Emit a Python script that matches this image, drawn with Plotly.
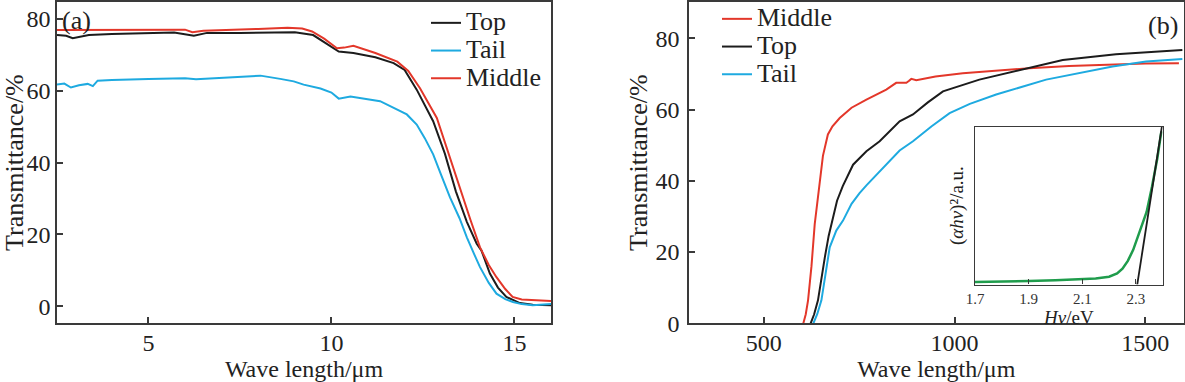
import plotly.graph_objects as go

# ---------------- Panel (a): IR transmittance ----------------
a_top_x = [2.5, 2.75, 2.93, 3.1, 3.37, 4.0, 4.6, 5.7, 6.24, 6.6, 7.5, 8.6, 9.0, 9.5, 10.0, 10.2, 10.6, 11.2, 11.7, 12.0, 12.33, 12.78, 13.1, 13.4, 13.7, 13.97, 14.1, 14.33, 14.55, 14.78, 15.15, 15.5, 16.0]
a_top_y = [75.5, 75.3, 74.6, 74.9, 75.5, 75.8, 76.0, 76.2, 75.3, 76.1, 76.1, 76.2, 76.3, 75.5, 72.3, 70.9, 70.5, 69.3, 67.7, 65.8, 60.3, 51.5, 42.5, 32.0, 23.5, 17.4, 15.5, 9.1, 5.2, 2.6, 0.9, 0.4, 0.3]

a_tail_x = [2.5, 2.7, 2.88, 3.1, 3.34, 3.48, 3.61, 4.0, 5.0, 6.0, 6.3, 7.0, 8.06, 8.6, 8.97, 9.24, 9.7, 10.0, 10.2, 10.52, 11.33, 12.06, 12.33, 12.55, 12.78, 13.0, 13.24, 13.5, 13.7, 13.9, 14.06, 14.3, 14.51, 14.75, 14.96, 15.2, 15.5, 16.0]
a_tail_y = [61.7, 62.0, 60.9, 61.5, 61.9, 61.3, 62.8, 63.0, 63.3, 63.5, 63.2, 63.6, 64.2, 63.3, 62.6, 61.7, 60.6, 59.5, 57.8, 58.4, 57.1, 53.4, 50.6, 46.8, 42.3, 36.5, 30.3, 24.5, 19.2, 14.5, 10.9, 6.5, 3.5, 2.0, 1.2, 0.6, 0.3, 0.6]

a_mid_x = [2.5, 4.0, 5.5, 6.0, 6.2, 6.5, 8.0, 8.8, 9.2, 9.47, 9.8, 10.15, 10.35, 10.6, 11.2, 11.8, 12.1, 12.42, 12.88, 13.2, 13.51, 13.8, 14.06, 14.3, 14.51, 14.75, 14.95, 15.2, 15.6, 16.0]
a_mid_y = [76.9, 77.0, 77.0, 77.0, 76.3, 76.7, 77.2, 77.5, 77.3, 76.5, 74.5, 71.8, 72.0, 72.5, 70.5, 68.1, 65.5, 60.7, 52.4, 42.5, 32.5, 24.0, 16.4, 11.5, 8.1, 4.8, 2.6, 1.9, 1.7, 1.5]

# ---------------- Panel (b): visible transmittance ----------------
b_mid_x = [603, 610, 616, 625, 633.5, 646.6, 655, 668, 680, 699, 730, 769, 803, 821, 847, 873.6, 880, 886.6, 899.7, 950, 1021.7, 1100, 1196, 1300, 1414, 1500, 1588]
b_mid_y = [-0.3, 2.5, 6.4, 16.0, 27.8, 40.0, 47.0, 53.0, 55.3, 57.6, 60.5, 62.8, 64.6, 65.6, 67.5, 67.5, 68.0, 68.6, 68.2, 69.3, 70.2, 70.9, 71.6, 72.2, 72.7, 72.9, 73.0]

b_top_x = [622, 632, 642, 650, 660, 670, 681, 692, 707, 734, 769, 803.7, 856, 891, 930, 969.6, 1065, 1170, 1283.5, 1423, 1500, 1597]
b_top_y = [-0.3, 2.5, 6.4, 12.0, 18.5, 24.5, 29.7, 34.4, 38.5, 44.5, 48.3, 51.1, 56.7, 58.6, 62.0, 65.1, 68.4, 71.1, 73.9, 75.5, 76.0, 76.7]

b_tail_x = [629, 640, 651, 662, 672.8, 690, 707.6, 730, 751, 769, 812.6, 856, 891, 940, 987, 1040, 1109, 1240, 1414, 1502, 1597]
b_tail_y = [-0.3, 2.5, 6.4, 14.0, 21.3, 26.0, 28.8, 33.5, 36.5, 38.7, 43.5, 48.5, 51.1, 55.3, 59.0, 61.6, 64.2, 68.4, 72.1, 73.5, 74.2]

# ---------------- Inset: Tauc plot ----------------
tauc_x = [1.7, 1.8, 1.9, 2.0, 2.1, 2.15, 2.2, 2.23, 2.25, 2.27, 2.29, 2.3, 2.32, 2.34, 2.36, 2.38, 2.395]
tauc_y = [0.016, 0.018, 0.022, 0.027, 0.032, 0.038, 0.05, 0.07, 0.10, 0.15, 0.22, 0.27, 0.36, 0.46, 0.62, 0.80, 0.97]
fit_x = [2.305, 2.397]
fit_y = [0.0, 1.0]

a_xticks = [5, 10, 15]
b_xticks = [500, 1000, 1500]
y_ticks = [0, 20, 40, 60, 80]
inset_xticks = [1.7, 1.9, 2.1, 2.3]

RED = "#e3372a"
BLUE = "#1eaae0"
BLACK = "#1c1c1c"
GREEN = "#1f9c4c"
FONT = "Liberation Serif"
AX = "#3a3a3a"


def lname(s):
    return f"<span style='font-size:26px'>{s}</span>"


fig = go.Figure()
# panel (a)
fig.add_trace(go.Scatter(x=a_top_x, y=a_top_y, mode="lines", name=lname("Top"),
                         line=dict(color=BLACK, width=2), xaxis="x", yaxis="y", legend="legend"))
fig.add_trace(go.Scatter(x=a_tail_x, y=a_tail_y, mode="lines", name=lname("Tail"),
                         line=dict(color=BLUE, width=2), xaxis="x", yaxis="y", legend="legend"))
fig.add_trace(go.Scatter(x=a_mid_x, y=a_mid_y, mode="lines", name=lname("Middle"),
                         line=dict(color=RED, width=2), xaxis="x", yaxis="y", legend="legend"))
# panel (b)
fig.add_trace(go.Scatter(x=b_mid_x, y=b_mid_y, mode="lines", name=lname("Middle"),
                         line=dict(color=RED, width=2), xaxis="x2", yaxis="y2", legend="legend2"))
fig.add_trace(go.Scatter(x=b_top_x, y=b_top_y, mode="lines", name=lname("Top"),
                         line=dict(color=BLACK, width=2), xaxis="x2", yaxis="y2", legend="legend2"))
fig.add_trace(go.Scatter(x=b_tail_x, y=b_tail_y, mode="lines", name=lname("Tail"),
                         line=dict(color=BLUE, width=2), xaxis="x2", yaxis="y2", legend="legend2"))
# inset
fig.add_trace(go.Scatter(x=tauc_x, y=tauc_y, mode="lines", showlegend=False,
                         line=dict(color=GREEN, width=2.5), xaxis="x3", yaxis="y3"))
fig.add_trace(go.Scatter(x=fit_x, y=fit_y, mode="lines", showlegend=False,
                         line=dict(color=BLACK, width=1.8), xaxis="x3", yaxis="y3"))

W, H = 1185, 382
top = 1 - 1 / H
bottom = 1 - 323 / H

axis_common = dict(showline=True, mirror=True, linecolor=AX, linewidth=1.5,
                   ticks="inside", ticklen=6, tickwidth=1.5, tickcolor=AX,
                   showgrid=False, zeroline=False, automargin=False,
                   tickfont=dict(family=FONT, size=24, color="#222"))

fig.update_layout(
    width=W, height=H,
    margin=dict(l=0, r=0, t=0, b=0),
    paper_bgcolor="white", plot_bgcolor="white",
    font=dict(family=FONT, color="#222"),
    xaxis=dict(domain=[57 / W, 551 / W], range=[2.5, 16], tickvals=a_xticks, anchor="y",
               ticklabelstandoff=-3,
               title=dict(text="Wave length/μm", font=dict(family=FONT, size=24), standoff=1),
               **axis_common),
    yaxis=dict(domain=[bottom, top], range=[-4.7, 84.7], tickvals=y_ticks, anchor="x",
               title=dict(text="Transmittance/%", font=dict(family=FONT, size=26), standoff=0),
               **axis_common),
    xaxis2=dict(domain=[689 / W, 1183.5 / W], range=[304, 1600], tickvals=b_xticks, anchor="y2",
                ticklabelstandoff=-3,
                title=dict(text="Wave length/μm", font=dict(family=FONT, size=24), standoff=1),
                **axis_common),
    yaxis2=dict(domain=[bottom, top], range=[0, 90.2], tickvals=y_ticks, anchor="x2",
                title=dict(text="Transmittance/%", font=dict(family=FONT, size=26), standoff=0),
                ticklabelstandoff=3,
                **axis_common),
    xaxis3=dict(domain=[975 / W, 1162.7 / W], range=[1.7, 2.4], tickvals=inset_xticks,
                ticktext=["1.7", "1.9", "2.1", "2.3"], anchor="y3",
                showline=True, mirror=True, linecolor=AX, linewidth=1.3,
                ticks="inside", ticklen=5, tickwidth=1.2, tickcolor=AX,
                showgrid=False, zeroline=False, automargin=False,
                tickfont=dict(family=FONT, size=15, color="#333"),
                title=dict(text="<i>Hv</i>/eV", font=dict(family=FONT, size=19), standoff=0)),
    yaxis3=dict(domain=[1 - 284.3 / H, 1 - 126 / H], range=[0, 1], anchor="x3",
                showline=True, mirror=True, linecolor=AX, linewidth=1.3,
                ticks="", showticklabels=False, showgrid=False, zeroline=False, automargin=False,
                title=dict(text="(<i>αhv</i>)²/a.u.", font=dict(family=FONT, size=19), standoff=5)),
    legend=dict(x=426 / W, y=1 - 4 / H, xanchor="left", yanchor="top",
                bgcolor="rgba(0,0,0,0)", font=dict(family=FONT, size=19, color="#222")),
    legend2=dict(x=717 / W, y=1 + 1 / H, xanchor="left", yanchor="top",
                 bgcolor="rgba(0,0,0,0)", font=dict(family=FONT, size=19, color="#222")),
    annotations=[
        dict(text="(a)", xref="paper", yref="paper", x=60 / W, y=1 - 3 / H,
             xanchor="left", yanchor="top", showarrow=False,
             font=dict(family=FONT, size=26, color="#222")),
        dict(text="(b)", xref="paper", yref="paper", x=1180 / W, y=1 - 8 / H,
             xanchor="right", yanchor="top", showarrow=False,
             font=dict(family=FONT, size=26, color="#222")),
    ],
)

fig.write_html("out.html", config={"displayModeBar": False},
               post_script="document.body.style.margin='0';document.body.style.overflow='hidden';")
